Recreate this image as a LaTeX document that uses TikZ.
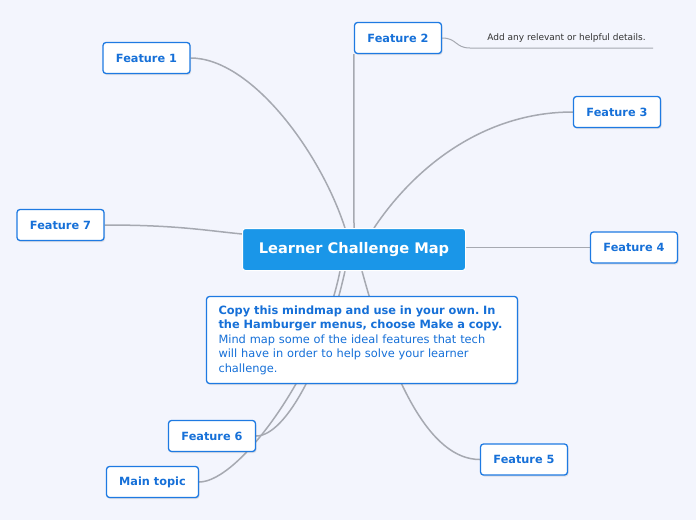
\documentclass[tikz,border=0pt]{standalone}
\usepackage{fontspec}
\setmainfont{DejaVu Sans}
\usetikzlibrary{positioning, shadows}
\frenchspacing

\definecolor{bgblue}{RGB}{243,245,253}
\definecolor{mapblue}{RGB}{26,150,232}
\definecolor{textblue}{RGB}{22,112,216}
\definecolor{edgeblue}{RGB}{30,122,226}
\definecolor{linegray}{RGB}{166,169,177}
\pgfdeclarelayer{back}
\pgfsetlayers{back,main}

\begin{document}
\begin{tikzpicture}[x=1pt, y=-1pt,
    topic/.style={rectangle, rounded corners=3pt, draw=edgeblue, line width=1.3pt, fill=white,
        text=textblue, font=\bfseries\fontsize{11.3}{13}\selectfont, minimum width=87pt,
        minimum height=31pt, inner sep=2pt,
        drop shadow={shadow xshift=1pt, shadow yshift=-1.5pt, opacity=0.2}},
    central/.style={rectangle, rounded corners=3pt, draw=white, line width=1pt, fill=mapblue,
        text=white, font=\bfseries\fontsize{14.6}{16}\selectfont, minimum width=223pt,
        minimum height=42pt},
    notebox/.style={topic, align=left, font=\fontsize{11.4}{14.5}\selectfont, minimum width=311pt,
        minimum height=87pt, inner xsep=12pt, text width=287pt},
    detail/.style={inner sep=0pt, text=black!80, font=\fontsize{9}{10}\selectfont},
    branch/.style={draw=linegray, line width=1.5pt},
    twig/.style={draw=linegray, line width=1pt}
]

\begin{pgfonlayer}{back}
\fill[bgblue] (0,0) rectangle (696,520);
\end{pgfonlayer}
\useasboundingbox (0,0) rectangle (696,520);

% Central topic
\node[central] (center) at (354,249.5) {Learner Challenge Map};

% Features
\node[topic] (f1) at (146.5,58) {Feature 1};
\node[topic] (f2) at (398,38) {Feature 2};
\node[topic] (f3) at (617,112) {Feature 3};
\node[topic] (f4) at (634,247.5) {Feature 4};
\node[topic] (f5) at (524,459.5) {Feature 5};
\node[topic] (f6) at (212,436) {Feature 6};
\node[topic] (f7) at (60.5,225) {Feature 7};
\node[topic, minimum width=92pt] (main) at (152.5,482) {Main topic};

% Note
\node[notebox] (note) at (362,340) {\textbf{Copy this mindmap and use in your own. In}\\
    \textbf{the Hamburger menus, choose Make a copy.}\\
    Mind map some of the ideal features that tech\\
    will have in order to help solve your learner\\
    challenge.};

% Detail on Feature 2
\node[detail, right=45pt of f2] (details) {Add any relevant or helpful details.};
\coordinate (dstart) at (470,48);
\coordinate (dend) at (653,48);

% Connectors
\begin{pgfonlayer}{back}
\draw[branch] (f1.east) .. controls +(60,0) and +(-25,-77) .. ([xshift=-9pt]center.north);
\draw[branch] (center.north) -- (f2.south west);
\draw[branch] (f3.west) .. controls +(-90,0) and +(40,-60) .. ([xshift=20pt]center.north);
\draw[branch] ([yshift=2pt]center.east) -- (f4.west);
\draw[branch] (f7.east) .. controls +(70,0) and +(-40,-4) .. ([yshift=-6pt]center.north west);
\draw[branch] ([xshift=8pt]center.south) .. controls +(30,110) and +(-50,0) .. (f5.west);
\draw[branch] ([xshift=-9pt]center.south) .. controls +(-20,90) and +(30,0) .. (f6.east);
\draw[branch] ([xshift=-14pt]center.south) .. controls +(-20,100) and +(40,0) .. (main.east);
\draw[twig] (f2.east) .. controls +(15,0) and +(-15,0) .. (dstart) -- (dend);
\end{pgfonlayer}

\end{tikzpicture}
\end{document}
